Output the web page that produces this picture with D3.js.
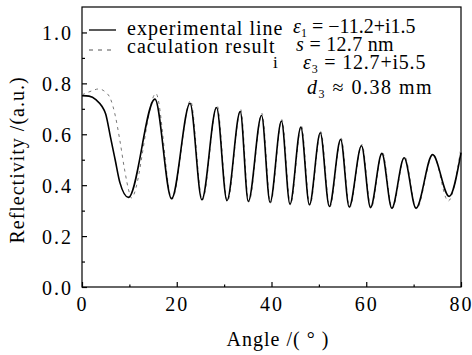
<!DOCTYPE html>
<html>
<head>
<meta charset="utf-8">
<script src="https://cdn.jsdelivr.net/npm/d3@7"></script>
<style>
  body { margin: 0; background: #fff; }
</style>
</head>
<body>
<div id="chart"></div>
<script>
// experimental line: angle (deg) / reflectivity
const expAngle = [0, 1.5, 3, 4.2, 5, 6, 7, 8, 9.8,
  15.4, 18.9, 22.8, 25.3, 28.4, 30.6, 33.4, 35.1, 37.9, 39.7, 42.1, 43.9,
  46.2, 48.0, 50.3, 52.2, 54.6, 56.4, 59.0, 60.9, 63.3, 65.4, 68.0, 70.5,
  74.0, 77.5, 80];
const expValue = [0.752, 0.750, 0.735, 0.71, 0.68, 0.59, 0.50, 0.41, 0.352,
  0.738, 0.347, 0.722, 0.343, 0.705, 0.339, 0.690, 0.336, 0.675, 0.332, 0.652, 0.325,
  0.628, 0.323, 0.606, 0.316, 0.580, 0.314, 0.555, 0.312, 0.525, 0.310, 0.508, 0.310,
  0.520, 0.356, 0.528];

// calculation result
const calAngle = [0, 2, 3.5, 5, 6, 7, 8, 9, 10, 10.4,
  15.6, 19.0, 22.9, 25.4, 28.5, 30.7, 33.5, 35.2, 38.0, 39.8, 42.2, 44.0,
  46.3, 48.1, 50.4, 52.3, 54.7, 56.5, 59.1, 61.0, 63.4, 65.5, 68.1, 70.6,
  74.1, 77.3, 80];
const calValue = [0.755, 0.770, 0.778, 0.765, 0.740, 0.675, 0.575, 0.460, 0.370, 0.350,
  0.760, 0.345, 0.732, 0.341, 0.714, 0.337, 0.698, 0.334, 0.682, 0.330, 0.658, 0.323,
  0.634, 0.321, 0.611, 0.314, 0.585, 0.312, 0.560, 0.310, 0.530, 0.308, 0.512, 0.307,
  0.522, 0.338, 0.548];

const xTicks = [0, 20, 40, 60, 80];
const xMinor = [10, 30, 50, 70];
const yTicks = [0, 0.2, 0.4, 0.6, 0.8, 1.0];
const yMinor = [0.1, 0.3, 0.5, 0.7, 0.9];

const W = 472, H = 355;
const m = {left: 82, right: 11, top: 7, bottom: 68};
const serif = "Liberation Serif";

const svg = d3.select("#chart").append("svg")
    .attr("width", W).attr("height", H);

const x = d3.scaleLinear().domain([0, 80]).range([m.left, W - m.right]);
const y = d3.scaleLinear().domain([0, 1.1]).range([H - m.bottom, m.top]);

/// axes, ticks pointing inward
const gx = svg.append("g").attr("transform", "translate(0," + (H - m.bottom) + ")")
    .call(d3.axisBottom(x).tickValues(xTicks).tickSize(-5).tickPadding(8).tickFormat(d3.format("d")));
const gxm = svg.append("g").attr("transform", "translate(0," + (H - m.bottom) + ")")
    .call(d3.axisBottom(x).tickValues(xMinor).tickSize(-2.5).tickFormat(""));
const gy = svg.append("g").attr("transform", "translate(" + m.left + ",0)")
    .call(d3.axisLeft(y).tickValues(yTicks).tickSize(-5).tickPadding(9).tickFormat(d3.format(".1f")));
const gym = svg.append("g").attr("transform", "translate(" + m.left + ",0)")
    .call(d3.axisLeft(y).tickValues(yMinor).tickSize(-3).tickFormat(""));

[gx, gxm, gy, gym].forEach(g => {
  g.attr("font-family", serif).attr("font-size", 20);
  g.select(".domain").remove();
  g.selectAll("line").attr("stroke", "#000").attr("stroke-width", 1.2);
  g.selectAll("text").attr("font-family", serif).style("font-family", serif)
    .style("letter-spacing", "2px").attr("fill", "#000");
});
gx.selectAll("text").attr("dy", "0.8em");
gy.selectAll("text").attr("dy", "0.35em");

/// frame
svg.append("rect")
    .attr("x", m.left).attr("y", m.top)
    .attr("width", W - m.left - m.right).attr("height", H - m.top - m.bottom)
    .attr("fill", "none").attr("stroke", "#000").attr("stroke-width", 1.2);

/// curves
const line = d3.line()
    .x(d => x(d[0])).y(d => y(d[1]))
    .curve(d3.curveMonotoneX);

svg.append("path")
    .datum(d3.zip(calAngle, calValue))
    .attr("d", line)
    .attr("fill", "none").attr("stroke", "#777").attr("stroke-width", 1)
    .attr("stroke-dasharray", "3,4");

svg.append("path")
    .datum(d3.zip(expAngle, expValue))
    .attr("d", line)
    .attr("fill", "none").attr("stroke", "#000").attr("stroke-width", 1.6);

function label(px, py, size, str) {
  return svg.append("text").attr("x", px).attr("y", py)
    .attr("font-family", serif).style("font-family", serif)
    .style("font-size", size + "px").text(str);
}

/// legend
svg.append("line").attr("x1", 89).attr("x2", 116).attr("y1", 30).attr("y2", 30)
    .attr("stroke", "#000").attr("stroke-width", 1.3);
svg.append("line").attr("x1", 89).attr("x2", 116).attr("y1", 50).attr("y2", 50)
    .attr("stroke", "#555").attr("stroke-width", 1).attr("stroke-dasharray", "4,5");
label(127, 35, 20, "experimental line").style("letter-spacing", "1px");
label(127, 53, 20, "caculation result").style("letter-spacing", "1px");
label(273, 68, 17, "i");

/// parameters
function param(px, py, sym, sub, rest, sp) {
  const t = label(px, py, 20, null).style("letter-spacing", sp + "px");
  t.append("tspan").style("font-style", "italic").text(sym);
  if (sub) t.append("tspan").attr("dy", 4).style("font-size", "12px").text(sub);
  t.append("tspan").attr("dy", sub ? -4 : 0).text(rest);
}
param(293, 33, "\u03b5", "1", " = \u221211.2+i1.5", 0);
param(296, 51, "s", "", " = 12.7 nm", 0.3);
param(303, 69, "\u03b5", "3", " = 12.7+i5.5", 0.8);
param(307, 94, "d", "3", " \u2248 0.38 mm", 1.5);

/// axis titles
label(278, 346, 20, "Angle /( \u00b0 )").attr("text-anchor", "middle").style("letter-spacing", "1px");
label(0, 0, 20, "Reflectivity /(a.u.)")
    .attr("transform", "translate(24,160) rotate(-90)")
    .attr("text-anchor", "middle").style("letter-spacing", "1px");
</script>
</body>
</html>
